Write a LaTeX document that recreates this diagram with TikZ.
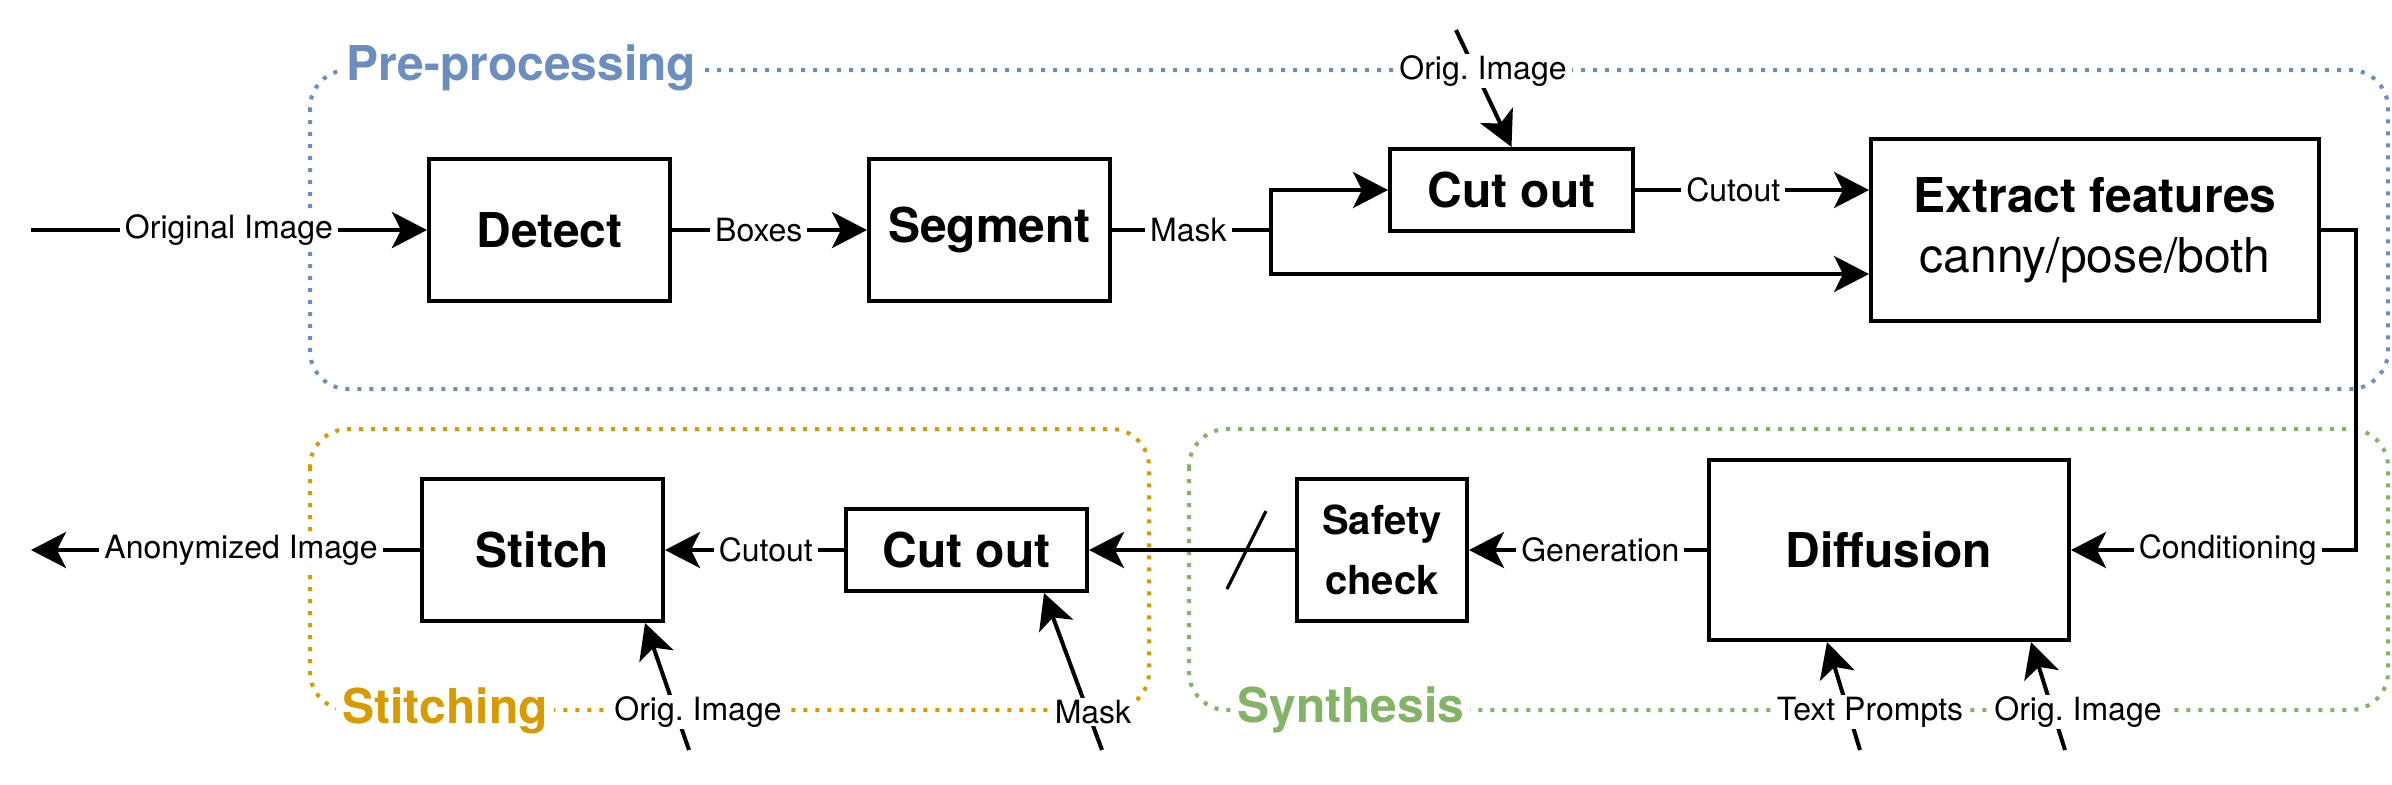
\documentclass[tikz,border=0pt]{standalone}
\usepackage{fontspec}
\setmainfont{TeX Gyre Heros}
\usetikzlibrary{arrows.meta}
\definecolor{preblue}{HTML}{6C8EBF}
\definecolor{stitchor}{HTML}{D79B00}
\definecolor{synthgr}{HTML}{82B366}
\frenchspacing
\begin{document}
\begin{tikzpicture}[x=0.5pt,y=-0.5pt,
  box/.style={draw, line width=2pt, fill=white, font=\bfseries\fontsize{24}{30}\selectfont, align=center, inner sep=0pt},
  arr/.style={line width=2pt, -{Stealth[length=17.5pt,width=18pt,inset=4.5pt]}},
  lbl/.style={fill=white, font=\fontsize{16}{19}\selectfont, inner xsep=2.5pt, inner ysep=1pt},
  grp/.style={line width=2pt, dash pattern=on 2pt off 4pt, rounded corners=19pt},
  ttl/.style={fill=white, font=\bfseries\fontsize{24}{28}\selectfont, inner xsep=3pt, inner ysep=1pt},
]
\useasboundingbox (0,0) rectangle (2392,784);

% groups
\draw[grp, draw=preblue] (310,70) rectangle (2388,389);
\draw[grp, draw=stitchor] (310,429) rectangle (1149,710);
\draw[grp, draw=synthgr] (1189,429) rectangle (2388,710);

% boxes
\node[box, minimum width=120.5pt, minimum height=71pt] (detect) at (549.5,230) {Detect};
\node[box, minimum width=120.5pt, minimum height=71pt] (seg) at (989.5,230) {Segment};
\node[box, minimum width=121.5pt, minimum height=41pt] (cut1) at (1511.5,190) {Cut out};
\node[box, minimum width=224pt, minimum height=91pt] (ext) at (2095,230) {Extract features\\{\mdseries canny/pose/both}};
\node[box, minimum width=120.5pt, minimum height=71pt] (stitch) at (542.5,550) {Stitch};
\node[box, minimum width=120.5pt, minimum height=41pt] (cut2) at (966.5,550) {Cut out};
\node[box, minimum width=85pt, minimum height=71pt, font=\bfseries\fontsize{20}{30}\selectfont] (safe) at (1382,550) {Safety\\check};
\node[box, minimum width=180pt, minimum height=90pt] (diff) at (1889,550) {Diffusion};

% free ends
\coordinate (in) at (31,230);
\coordinate (out) at (31,550);
\coordinate (oi1) at (1456,30);
\coordinate (b1) at (689,750);
\coordinate (b2) at (1102,750);
\coordinate (b3) at (1860,750);
\coordinate (b4) at (2065,750);
\coordinate (sl1) at (1227,589);
\coordinate (sl2) at (1266,511);

% connectors top row
\draw[arr] (in) -- node[lbl,pos=0.5]{Original Image} (detect.west);
\draw[arr] (detect.east) -- node[lbl,pos=0.445]{Boxes} (seg.west);
\draw[arr] (seg.east) -- ++(159,0) |- ([yshift=-22pt]ext.west);
\draw[arr] (seg.east) -- node[lbl,pos=0.48]{Mask} ++(159,0) |- (cut1.west);
\draw[arr] (cut1.east) -- node[lbl,pos=0.42]{Cutout} (cut1.east -| ext.west);
\draw[arr] (oi1) -- (cut1.north);

% to synthesis
\draw[arr] (ext.east) -- ++(35,0) |- node[lbl,pos=0.725]{Conditioning} (diff.east);

% bottom row
\draw[arr] (diff.west) -- node[lbl,pos=0.448]{Generation} (safe.east);
\draw[arr] (safe.west) -- (cut2.east);
\draw[line width=1.6pt] (sl1) -- (sl2);
\draw[arr] (cut2.west) -- node[lbl,pos=0.437]{Cutout} (stitch.east);
\draw[arr] (stitch.west) -- node[lbl,pos=0.46]{Anonymized Image} (out);

% diagonal inputs
\draw[arr] (b1) -- ([xshift=-10pt]stitch.south east);
\draw[arr] (b2) -- ([xshift=-22.5pt]cut2.south east);
\draw[arr] (b3) -- ([xshift=60pt]diff.south west);
\draw[arr] (b4) -- ([xshift=-20pt]diff.south east);

% labels on group borders
\node[lbl] (lo1) at (1483,71) {Orig. Image};
\node[lbl] (lo2) at (698,712) {Orig. Image};
\node[lbl] (lm) at (1093,712) {Mask};
\node[lbl] (ltp) at (1870,712) {Text Prompts};
\node[lbl] (lo3) at (2078,712) {Orig. Image};

% group titles
\node[ttl, text=preblue, anchor=base west] (tpre) at (340,80) {Pre-processing};
\node[ttl, text=stitchor, anchor=base west] (tsti) at (336,723) {Stitching};
\node[ttl, text=synthgr, anchor=base west] (tsyn) at (1231,722) {Synthesis};
\end{tikzpicture}
\end{document}
